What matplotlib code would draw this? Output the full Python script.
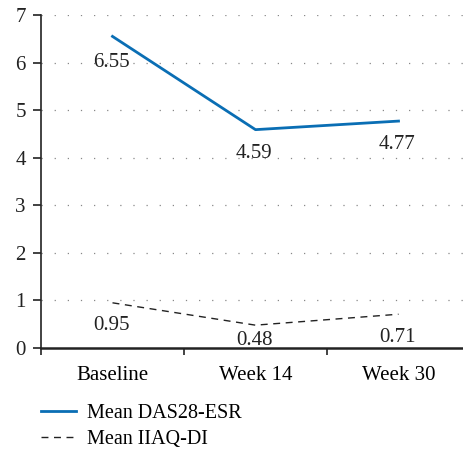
import matplotlib
matplotlib.use("Agg")
import matplotlib.pyplot as plt
from matplotlib.ticker import FixedLocator, NullFormatter, FixedFormatter

plt.rcParams['font.family'] = ['Liberation Serif', 'DejaVu Serif']

categories = ["Baseline", "Week 14", "Week 30"]
das28 = [6.55, 4.59, 4.77]
iiaq = [0.95, 0.48, 0.71]

W, H = 464, 451
fig = plt.figure(figsize=(W/100, H/100), dpi=100)
left, right, top, bottom = 41, 464, 15, 348
ax = fig.add_axes([left/W, 1-bottom/H, (right-left)/W, (bottom-top)/H])

x = list(range(len(categories)))
ax.plot(x, das28, color="#0a6eb4", lw=2.0, label="Mean DAS28-ESR")
ax.plot(x, iiaq, color="#222222", lw=1.0, ls=(0, (5, 4)), label="Mean IIAQ-DI")

cat_w = 143
ax.set_xlim(-0.5, -0.5 + (right-left)/cat_w)
ax.set_ylim(0, 7)

fs = 15
das_off = [-19, -17, -17]
for i, v in enumerate(das28):
    ax.annotate(f"{v:.2f}", (i, v), xytext=(-1, das_off[i]), textcoords="offset points",
                ha="center", va="center", fontsize=fs, color="#222222")
iiaq_off = [-16, -11, -17]
for i, v in enumerate(iiaq):
    ax.annotate(f"{v:.2f}", (i, v), xytext=(-1, iiaq_off[i]), textcoords="offset points",
                ha="center", va="center", fontsize=fs, color="#222222")

ax.set_yticks(range(0, 8))
ax.tick_params(axis="y", direction="out", length=6, width=1.2, labelsize=fs, pad=5)
ax.xaxis.set_major_locator(FixedLocator([-0.5, 0.5, 1.5]))
ax.xaxis.set_major_formatter(NullFormatter())
ax.xaxis.set_minor_locator(FixedLocator(x))
ax.xaxis.set_minor_formatter(FixedFormatter(categories))
ax.tick_params(axis="x", which="major", direction="out", length=5, width=1.2)
ax.tick_params(axis="x", which="minor", length=0, labelsize=fs, pad=13)

for yv in range(1, 8):
    ax.axhline(yv, color="#888888", lw=0.9, ls=(0, (1, 9.5)), zorder=0)

for s in ["top", "right"]:
    ax.spines[s].set_visible(False)
ax.spines["left"].set_linewidth(1.2)
ax.spines["bottom"].set_linewidth(1.8)
for s in ["left", "bottom"]:
    ax.spines[s].set_color("#222222")
ax.tick_params(colors="#222222")

fig.legend(loc="upper left", bbox_to_anchor=(33/W, 1-396/H), frameon=False,
           fontsize=14.5, handlelength=1.75, handletextpad=0.55, labelspacing=0.32,
           borderaxespad=0)

fig.savefig("out.png", dpi=100)
